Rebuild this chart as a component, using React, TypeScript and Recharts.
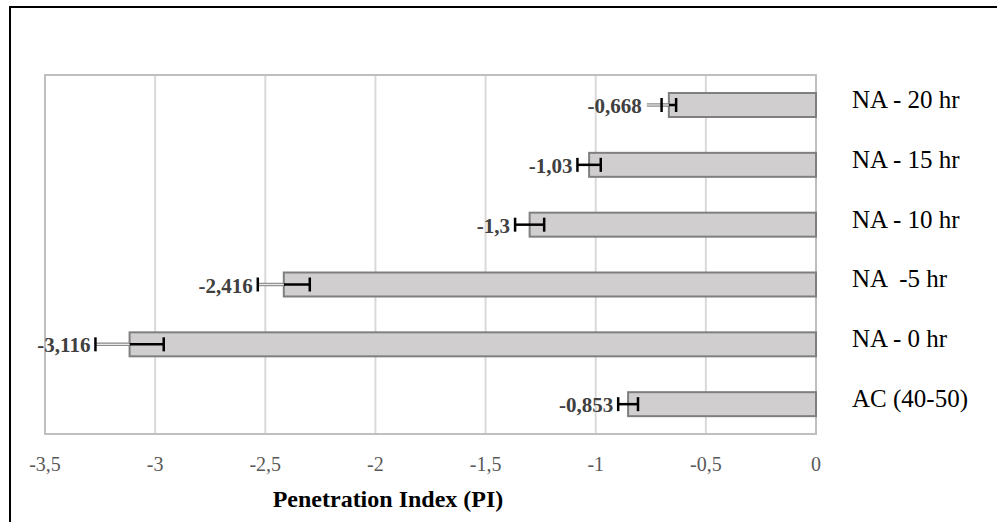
import {
  BarChart, Bar, XAxis, YAxis, CartesianGrid, ReferenceArea,
} from "recharts";

const categories = ["NA - 20 hr", "NA - 15 hr", "NA - 10 hr", "NA  -5 hr", "NA - 0 hr", "AC (40-50)"];
const piValues = [-0.668, -1.03, -1.3, -2.416, -3.116, -0.853];
// capped black error bar (±) and the grey lead line on the outer side
const errBlack = [0.033, 0.053, 0.066, 0.118, 0.155, 0.045];
const errGray = [0.1, 0, 0, 0.118, 0.155, 0];
const xTicks = [-3.5, -3, -2.5, -2, -1.5, -1, -0.5, 0];

const FONT = "'Liberation Serif', 'Times New Roman', serif";

const data = categories.map((name, i) => ({
  name, pi: piValues[i], err: errBlack[i], errGray: errGray[i],
}));

const fmt = (v: number) => String(v).replace(".", ",");

function BarWithError(props: any) {
  const { x, y, width, height, payload } = props;
  const left = Math.min(x, x + width);
  const w = Math.abs(width);
  const ppu = w / Math.abs(payload.pi);
  const end = left;
  const cy = y + height / 2;
  const e = payload.err * ppu;
  const g = payload.errGray * ppu;
  const labelX = Math.min(end - e, end - g) - 5;
  return (
    <g>
      <rect x={left} y={y} width={w} height={height} fill="#d0cece" stroke="#7f7f7f" strokeWidth={2} />
      <line x1={end - e} x2={end + e} y1={cy} y2={cy} stroke="#000" strokeWidth={2.5} />
      {g > 0 && (
        <>
          <line x1={end - g} x2={end} y1={cy} y2={cy} stroke="#8c8c8c" strokeWidth={3.5} />
          <line x1={end - g} x2={end} y1={cy} y2={cy} stroke="#e8e8e8" strokeWidth={1.2} />
        </>
      )}
      <line x1={end - e} x2={end - e} y1={cy - 7} y2={cy + 7} stroke="#000" strokeWidth={2.5} />
      <line x1={end + e} x2={end + e} y1={cy - 7} y2={cy + 7} stroke="#000" strokeWidth={2.5} />
      <text x={labelX} y={cy + 8} textAnchor="end" fontFamily={FONT} fontWeight="bold" fontSize={21} fill="#404040">
        {fmt(payload.pi)}
      </text>
    </g>
  );
}

function XTick({ x, y, payload }: any) {
  return (
    <text x={x} y={y + 37} textAnchor="middle" fontFamily={FONT} fontSize={20} fill="#595959">
      {fmt(payload.value)}
    </text>
  );
}

function YTick({ x, y, payload }: any) {
  return (
    <text x={x + 36} y={y + 3} textAnchor="start" fontFamily={FONT} fontSize={25} fill="#000"
      style={{ whiteSpace: "pre" }}>
      {payload.value}
    </text>
  );
}

function AxisTitle({ viewBox }: any) {
  return (
    <text x={viewBox.x + 343} y={viewBox.y + 73} textAnchor="middle" fontFamily={FONT}
      fontWeight="bold" fontSize={24} fill="#000">
      Penetration Index (PI)
    </text>
  );
}

export default function App() {
  return (
    <div style={{ position: "absolute", left: 0, top: 0, width: 997, height: 522, overflow: "hidden", background: "#fff" }}>
      <div style={{ position: "absolute", left: 9, top: 6, width: 1000, height: 600, border: "2px solid #000" }} />
      <div style={{ position: "absolute", left: 0, top: 0 }}>
        <BarChart width={997} height={522} data={data} layout="vertical"
          margin={{ top: 75, right: 0, left: 45, bottom: 0 }}>
          <CartesianGrid horizontal={false} stroke="#d9d9d9" strokeWidth={2} />
          <ReferenceArea x1={-3.5} x2={0} fill="none" stroke="#bfbfbf" strokeWidth={2} />
          <XAxis type="number" domain={[-3.5, 0]} ticks={xTicks} interval={0} height={88}
            axisLine={false} tickLine={false} tickSize={0} tickMargin={0} tick={<XTick />}
            label={{ content: <AxisTitle /> }} />
          <YAxis type="category" dataKey="name" orientation="right" width={181}
            axisLine={false} tickLine={false} tickSize={0} tickMargin={0} tick={<YTick />} />
          <Bar dataKey="pi" barSize={24} isAnimationActive={false} shape={<BarWithError />} />
        </BarChart>
      </div>
    </div>
  );
}
